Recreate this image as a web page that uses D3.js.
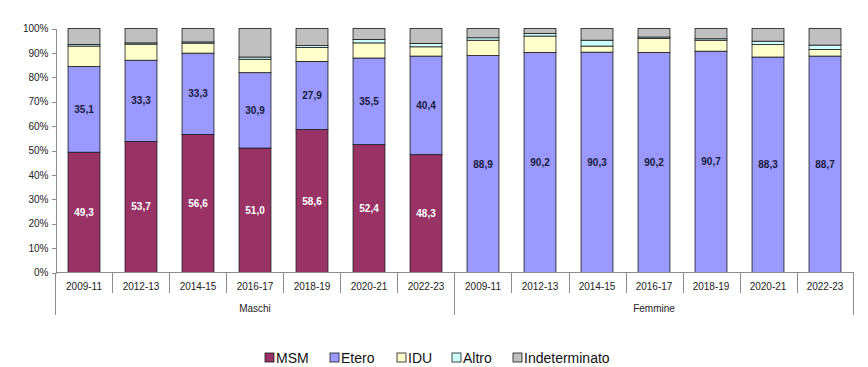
<!DOCTYPE html>
<html lang="it">
<head>
<meta charset="UTF-8">
<title>Modalità di trasmissione per sesso</title>
<script src="https://d3js.org/d3.v7.min.js"></script>
<style>
  body { margin: 0; background: #fff; }
  svg { font-family: "Liberation Sans", Arial, sans-serif; }
  .axis path, .axis line { stroke: #8c8c8c; shape-rendering: crispEdges; }
  .axis text { fill: #222; font-size: 10px; }
  .seg { stroke: #1a1a1a; stroke-width: 0.8px; }
  .val { font-size: 10px; font-weight: bold; text-anchor: middle; }
</style>
</head>
<body>
<svg width="868" height="367"></svg>
<script>
// periodi e gruppi
const periods = ["2009-11", "2012-13", "2014-15", "2016-17", "2018-19", "2020-21", "2022-23"];
const groups = ["Maschi", "Femmine"];
const seriesNames = ["MSM", "Etero", "IDU", "Altro", "Indeterminato"];
const colors = ["#993366", "#9999ff", "#ffffcc", "#ccffff", "#c0c0c0"];
const yTicks = [0, 10, 20, 30, 40, 50, 60, 70, 80, 90, 100];

// percentuali, maschi
const msmM   = [49.3, 53.7, 56.6, 51.0, 58.6, 52.4, 48.3];
const eteroM = [35.1, 33.3, 33.3, 30.9, 27.9, 35.5, 40.4];
const iduM   = [8.4, 6.6, 4.1, 5.5, 5.7, 6.2, 3.8];
const altroM = [0.7, 0.5, 0.5, 0.9, 0.8, 1.4, 1.4];
const indetM = [6.5, 5.9, 5.5, 11.7, 7.0, 4.5, 6.1];

// percentuali, femmine
const msmF   = [0, 0, 0, 0, 0, 0, 0];
const eteroF = [88.9, 90.2, 90.3, 90.2, 90.7, 88.3, 88.7];
const iduF   = [6.3, 6.7, 2.5, 5.7, 4.5, 5.1, 2.7];
const altroF = [1.0, 1.1, 2.4, 0.6, 0.6, 1.4, 1.8];
const indetF = [3.8, 2.0, 4.8, 3.5, 4.2, 5.2, 6.8];

const rows = [];
periods.forEach((p, i) => rows.push({ key: "Maschi|" + p, group: "Maschi", period: p,
  MSM: msmM[i], Etero: eteroM[i], IDU: iduM[i], Altro: altroM[i], Indeterminato: indetM[i] }));
periods.forEach((p, i) => rows.push({ key: "Femmine|" + p, group: "Femmine", period: p,
  MSM: msmF[i], Etero: eteroF[i], IDU: iduF[i], Altro: altroF[i], Indeterminato: indetF[i] }));

const svg = d3.select("svg");
const plotLeft = 55.5, plotRight = 853.5, plotTop = 28.5, plotBottom = 272.5;

const x = d3.scaleBand()
  .domain(rows.map(d => d.key))
  .range([plotLeft, plotRight])
  .paddingInner(0.44)
  .paddingOuter(0.22);

const y = d3.scaleLinear().domain([0, 100]).range([plotBottom, plotTop]);
const color = d3.scaleOrdinal().domain(seriesNames).range(colors);

const stacked = d3.stack().keys(seriesNames)(rows);

// barre
svg.append("g").selectAll("g")
  .data(stacked)
  .join("g")
    .attr("fill", d => color(d.key))
  .selectAll("rect")
  .data(d => d.filter(s => s[1] - s[0] > 0))
  .join("rect")
    .attr("class", "seg")
    .attr("x", d => x(d.data.key))
    .attr("width", x.bandwidth())
    .attr("y", d => y(d[1]))
    .attr("height", d => y(d[0]) - y(d[1]));

// etichette valori (MSM ed Etero)
stacked.filter(s => s.key === "MSM" || s.key === "Etero").forEach(s => {
  svg.append("g").selectAll("text")
    .data(s.filter(d => d[1] - d[0] > 0))
    .join("text")
      .attr("class", "val")
      .attr("x", d => x(d.data.key) + x.bandwidth() / 2)
      .attr("y", d => y((d[0] + d[1]) / 2))
      .attr("dy", "0.35em")
      .attr("fill", s.key === "MSM" ? "#ffffff" : "#1a1a3a")
      .text(d => d3.format(".1f")(d[1] - d[0]).replace(".", ","));
});

// asse y
svg.append("g")
  .attr("class", "axis")
  .attr("transform", `translate(${plotLeft},0)`)
  .call(d3.axisLeft(y).tickValues(yTicks).tickSize(4).tickPadding(3).tickFormat(d => d + "%"));

// asse x a due livelli
const xa = svg.append("g").attr("class", "axis");
xa.append("line")
  .attr("x1", plotLeft).attr("x2", plotRight).attr("y1", plotBottom).attr("y2", plotBottom);

const step = x.step();
rows.forEach((d, i) => {
  const x0 = x(d.key) - x.paddingInner() * step / 2;
  const isGroupEdge = i === 0 || rows[i - 1].group !== d.group;
  xa.append("line")
    .attr("x1", Math.round(x0) + 0.5).attr("x2", Math.round(x0) + 0.5)
    .attr("y1", plotBottom).attr("y2", isGroupEdge ? 315 : 293);
  xa.append("text")
    .attr("x", x(d.key) + x.bandwidth() / 2)
    .attr("y", 286)
    .attr("dy", "0.35em")
    .attr("text-anchor", "middle")
    .text(d.period);
});
xa.append("line")
  .attr("x1", plotRight).attr("x2", plotRight).attr("y1", plotBottom).attr("y2", 315);

groups.forEach(g => {
  const keys = rows.filter(r => r.group === g).map(r => r.key);
  const gx0 = x(keys[0]) - x.paddingInner() * step / 2;
  const gx1 = x(keys[keys.length - 1]) + x.bandwidth() + x.paddingInner() * step / 2;
  xa.append("text")
    .attr("x", (gx0 + gx1) / 2)
    .attr("y", 308)
    .attr("dy", "0.35em")
    .attr("text-anchor", "middle")
    .text(g);
});

// legenda
const legendX = [265, 330, 397, 452, 513];
const legend = svg.append("g").selectAll("g")
  .data(seriesNames)
  .join("g")
    .attr("transform", (d, i) => `translate(${legendX[i]},358)`);
legend.append("rect")
  .attr("x", 0).attr("y", -5).attr("width", 9).attr("height", 9)
  .attr("fill", d => color(d))
  .attr("stroke", "#1a1a1a").attr("stroke-width", 0.8);
legend.append("text")
  .attr("x", 11).attr("dy", "0.35em")
  .attr("font-size", "14px").attr("fill", "#111")
  .text(d => d);
</script>
</body>
</html>
